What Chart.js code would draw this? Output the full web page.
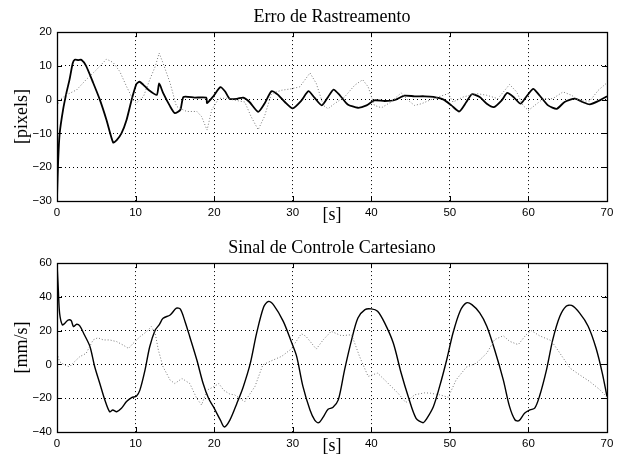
<!DOCTYPE html>
<html>
<head>
<meta charset="utf-8">
<script src="https://cdn.jsdelivr.net/npm/chart.js@4"></script>
<style>
  body { margin: 0; background: #fff; }
  #wrap { position: relative; width: 621px; height: 464px; }
  canvas { position: absolute; left: 0; }
</style>
</head>
<body>
<div id="wrap">
  <canvas id="errChart" width="621" height="232" style="top:0"></canvas>
  <canvas id="ctrlChart" width="621" height="232" style="top:231px"></canvas>
</div>
<script>
// tick labels
const timeTicks = [0, 10, 20, 30, 40, 50, 60, 70];
const errTicks = [-30, -20, -10, 0, 10, 20];
const ctrlTicks = [-40, -20, 0, 20, 40, 60];

// Erro de Rastreamento - solid trace
const errSolidT = [0, 0.15, 0.34, 0.77, 1.2, 1.6, 2.0, 2.25, 2.7, 3.1, 3.7, 4.6, 5.45, 6.3, 7.15, 7.6, 8.2, 8.85, 9.5,
  10.1, 10.5, 11.0, 11.6, 12.7, 13.0, 13.5, 14.4, 15.0, 15.7, 16.1, 17.5, 19.0, 19.1, 19.9, 20.8, 21.4, 22.0, 23.0,
  23.7, 24.5, 25.6, 26.4, 27.3, 28.1, 29.0, 30.0, 31.1, 32.0, 32.8, 33.7, 34.5, 35.2, 36.0, 37.0, 38.3, 39.4, 40.4,
  41.7, 43.0, 44.2, 45.5, 46.8, 47.9, 49.2, 50.2, 51.2, 52.1, 52.8, 53.8, 54.7, 55.6, 56.6, 57.3, 58.1, 59.0, 59.7,
  60.6, 61.4, 62.5, 63.6, 64.6, 65.9, 66.9, 67.8, 68.9, 70];
const errSolid = [-29, -18, -10, -3, 2, 6, 10.8, 11.8, 11.7, 11.8, 10, 5, 0, -6, -12.7, -12, -10, -6, 0,
  4.6, 5.3, 4.4, 3, 1.4, 4.8, 2, -2, -4, -3, 0.8, 0.6, 0.6, -1, 1, 3.7, 2.4, 0.2, 0.3,
  0.6, -0.7, -3.6, -1.2, 2.5, 1.5, -0.7, -2.6, -0.3, 2.5, 0.5, -1.7, 0.8, 3.0, 1.3, -1.4, -2.4, -1.7, -0.2,
  -0.4, -0.1, 1.2, 1.0, 1.0, 0.8, 0, -1.7, -3.5, -0.7, 1.6, 0.8, -1.2, -2.2, -0.2, 2, 0.8, -1.2, 0.8,
  3.2, 1.3, -1.7, -2.7, -0.7, 0.3, -0.7, -1.4, -0.4, 1];

// Erro de Rastreamento - dotted trace
const errDotT = [0, 0.34, 1.2, 2.5, 3.7, 5.0, 6.3, 7.15, 8.0, 8.85, 9.7, 10.1, 11.0, 11.8, 12.5, 13.0, 13.5, 14.4,
  15.2, 16.5, 17.8, 18.4, 19.1, 19.7, 20.6, 21.6, 22.5, 23.9, 24.7, 25.6, 26.4, 27.3, 28.6, 29.8, 30.9, 32.2, 33.0,
  33.9, 34.5, 35.3, 36.6, 37.9, 38.9, 39.6, 40.4, 41.3, 42.5, 43.8, 44.7, 45.5, 46.4, 47.9, 49.8, 50.4, 51.7, 53.4,
  54.7, 56.1, 57.0, 57.6, 58.5, 59.3, 60.0, 60.8, 61.9, 63.1, 64.4, 65.5, 66.5, 67.8, 68.9, 70];
const errDot = [-2, 0, 1.4, 2.9, 5.9, 8.8, 12, 11, 8.3, 3.9, -0.1, -1, 0.9, 5.9, 9.8, 13.8, 10.8, 4.9,
  -2, -3.5, -3.5, -5, -9, -3, 0.4, 0.4, -0.1, -0.7, -5, -8.9, -5, 1.8, 2.8, 3.2, 3.8, 7.9, 4.8,
  -1.7, -2.7, -1.2, 0.8, 4.3, 5.9, 3.8, -1.7, -2.4, -0.7, 2, -0.2, -1.7, -1.2, 0.3, 1.8, -0.7, 0.8, 1.8,
  1.3, 0.3, 2.8, 4.5, 2.3, -1.7, -3.2, -1.7, 0.3, 0.3, 2.3, 1.3, -0.4, -0.4, 2.8, 5];

// Sinal de Controle Cartesiano - solid trace
const ctrlSolidT = [0, 0.17, 0.34, 0.68, 1.0, 1.4, 1.8, 2.1, 2.5, 2.9, 3.5, 4.2, 4.8, 5.45, 6.1, 6.7, 7.1, 7.6, 8.2,
  8.85, 9.5, 10.1, 10.55, 11.2, 11.8, 12.5, 13.0, 13.5, 14.4, 15.2, 15.7, 16.3, 16.9, 17.8, 18.6, 19.3, 19.9, 20.8,
  21.3, 22.0, 22.9, 23.7, 24.6, 25.4, 26.3, 26.9, 27.6, 28.8, 29.8, 30.5, 31.3, 32.2, 32.8, 33.3, 33.9, 34.5, 35.1,
  35.8, 36.6, 37.5, 38.3, 39.2, 40.0, 40.8, 41.7, 42.8, 43.8, 44.7, 45.7, 46.6, 47.0, 47.9, 48.7, 49.6, 50.4, 51.3,
  52.1, 52.8, 53.8, 54.7, 55.7, 56.8, 57.6, 58.3, 58.8, 59.5, 60.2, 60.8, 61.4, 62.3, 63.1, 64.0, 64.8, 65.5, 66.5,
  67.6, 68.6, 69.4, 70];
const ctrlSolid = [60, 44, 30, 23.4, 24.4, 26.3, 26, 22.4, 23.8, 22.8, 17.4, 10.5, -1.4, -11.3, -21.2, -28, -27, -28, -26,
  -22, -19.6, -18.8, -15.2, -3.4, 10.5, 20.4, 23.4, 27.3, 29.3, 33.3, 32.7, 25.3, 16.4, 2.6, -11.3, -20.2, -25, -33,
  -37, -33, -23, -13.3, 0.6, 18.4, 34, 37.3, 35, 25.5, 13.7, 4.8, -13, -27, -33, -34.5, -31, -26.5, -25.5,
  -21, -3.2, 14.7, 27.5, 32.5, 32.9, 31.5, 24.6, 12.7, -5.1, -19, -31.9, -34.5, -32.5, -25, -13, 2.8, 18.6, 31.5,
  36.4, 35.4, 30.5, 22.6, 8.7, -9.1, -25, -32.9, -33.3, -28.9, -26.9, -25.9, -19, -3.2, 14.7, 28.5, 34.5, 34.9, 30.5,
  22.6, 9.7, -5.1, -19];

// Sinal de Controle Cartesiano - dotted trace
const ctrlDotT = [0, 0.34, 1.0, 1.6, 2.0, 2.9, 3.7, 4.6, 5.2, 5.9, 6.7, 7.6, 8.4, 9.1, 9.7, 10.55, 11.4, 12.0, 12.5,
  12.9, 13.5, 14.4, 15.0, 15.9, 16.9, 17.8, 18.4, 19.1, 19.9, 20.6, 21.2, 22.0, 22.6, 23.9, 25.2, 26.2, 27.3, 28.6,
  29.8, 31.1, 31.7, 33.0, 33.9, 34.9, 36.2, 37.5, 38.5, 39.6, 40.8, 42.1, 43.4, 44.4, 45.5, 46.8, 47.5, 48.7, 49.8,
  50.8, 52.1, 53.4, 54.7, 55.7, 56.8, 57.6, 58.7, 59.7, 60.4, 61.4, 62.9, 64.0, 65.3, 66.5, 67.8, 69.1, 70];
const ctrlDot = [6.5, 1.6, -0.4, -1.4, 0.6, 4.6, 6.5, 14.5, 15.8, 14.5, 14.5, 13.5, 11.5, 9.5, 12.5, 16.4, 19.4, 22.4, 18.4,
  8.5, -1.4, -9.3, -11.3, -8.3, -11.3, -20.2, -24, -15.2, -13.3, -11.3, -15.2, -17.6, -18, -22, -13, -0.2, 2.2, 4.8,
  9.1, 18.2, 16.6, 9.1, 14.7, 19.6, 17, 17.6, 4.8, -7.1, -5.1, -11, -17, -22.6, -18, -16.8, -17, -18, -19.4,
  -9.1, -1.6, 0.8, 6.7, 14.7, 17, 13.7, 11.7, 17.6, 20, 17, 14.1, 6.7, -2.2, -6.1, -10.1, -15, -19.4];

const toPts = (ts, vs) => ts.map((t, i) => ({ x: t, y: vs[i] }));

// box and inward ticks, matlab style
const boxTicks = {
  id: 'boxTicks',
  afterDraw(chart) {
    const { ctx, chartArea: a, scales } = chart;
    ctx.save();
    ctx.strokeStyle = '#000';
    ctx.lineWidth = 1;
    ctx.beginPath();
    scales.x.ticks.forEach(t => {
      const px = Math.round(scales.x.getPixelForValue(t.value)) + 0.5;
      ctx.moveTo(px, a.bottom); ctx.lineTo(px, a.bottom - 5);
      ctx.moveTo(px, a.top); ctx.lineTo(px, a.top + 5);
    });
    scales.y.ticks.forEach(t => {
      const py = Math.round(scales.y.getPixelForValue(t.value)) + 0.5;
      ctx.moveTo(a.left, py); ctx.lineTo(a.left + 5, py);
      ctx.moveTo(a.right, py); ctx.lineTo(a.right - 5, py);
    });
    ctx.stroke();
    ctx.lineWidth = 1.3;
    ctx.strokeRect(Math.round(a.left) + 0.5, Math.round(a.top) + 0.5,
      Math.round(a.right - a.left), Math.round(a.bottom - a.top));
    ctx.restore();
  }
};

function makeChart(id, title, yLabel, yTicks, solidPts, dotPts, solidWidth, tension) {
  const minus = v => String(v).replace('-', '\u2212');
  return new Chart(document.getElementById(id), {
    type: 'line',
    data: {
      datasets: [
        { data: dotPts, borderColor: '#777', borderWidth: 1, borderDash: [1, 2], pointRadius: 0, tension: 0 },
        { data: solidPts, borderColor: '#000', borderWidth: solidWidth, pointRadius: 0, tension: tension }
      ]
    },
    options: {
      responsive: false,
      animation: false,
      layout: { padding: { left: 0, right: 14, top: 0, bottom: 0 } },
      plugins: {
        legend: { display: false },
        tooltip: { enabled: false },
        title: {
          display: true, text: title, fullSize: false, color: '#000',
          font: { family: 'Liberation Serif', size: 18, weight: 'normal', lineHeight: 1.2 },
          padding: { top: 6, bottom: 4.5 }
        }
      },
      scales: {
        x: {
          type: 'linear', min: 0, max: 70,
          afterBuildTicks: s => { s.ticks = timeTicks.map(v => ({ value: v })); },
          afterFit: s => { s.height = 31; },
          grid: { color: '#000', lineWidth: 1, drawTicks: false },
          border: { display: false, dash: [1, 3] },
          ticks: { color: '#000', padding: 5, maxRotation: 0, font: { family: 'Liberation Sans', size: 11.5 }, callback: minus },
          title: {
            display: true, text: '[s]', color: '#000', padding: { top: 0, bottom: 6 },
            font: { family: 'Liberation Serif', size: 18, lineHeight: 1.2 }
          }
        },
        y: {
          min: yTicks[0], max: yTicks[yTicks.length - 1],
          afterBuildTicks: s => { s.ticks = yTicks.map(v => ({ value: v })); },
          afterFit: s => { s.width = 57; },
          grid: { color: '#000', lineWidth: 1, drawTicks: false },
          border: { display: false, dash: [1, 3] },
          ticks: { color: '#000', padding: 5, font: { family: 'Liberation Sans', size: 11.5 }, callback: minus },
          title: {
            display: true, text: yLabel, color: '#000', padding: { top: 11, bottom: 0 },
            font: { family: 'Liberation Serif', size: 18, lineHeight: 1.2 }
          }
        }
      }
    },
    plugins: [boxTicks]
  });
}

makeChart('errChart', 'Erro de Rastreamento', '[pixels]', errTicks,
  toPts(errSolidT, errSolid), toPts(errDotT, errDot), 1.8, 0.2);
makeChart('ctrlChart', 'Sinal de Controle Cartesiano', '[mm/s]', ctrlTicks,
  toPts(ctrlSolidT, ctrlSolid), toPts(ctrlDotT, ctrlDot), 1.4, 0.3);
</script>
</body>
</html>
